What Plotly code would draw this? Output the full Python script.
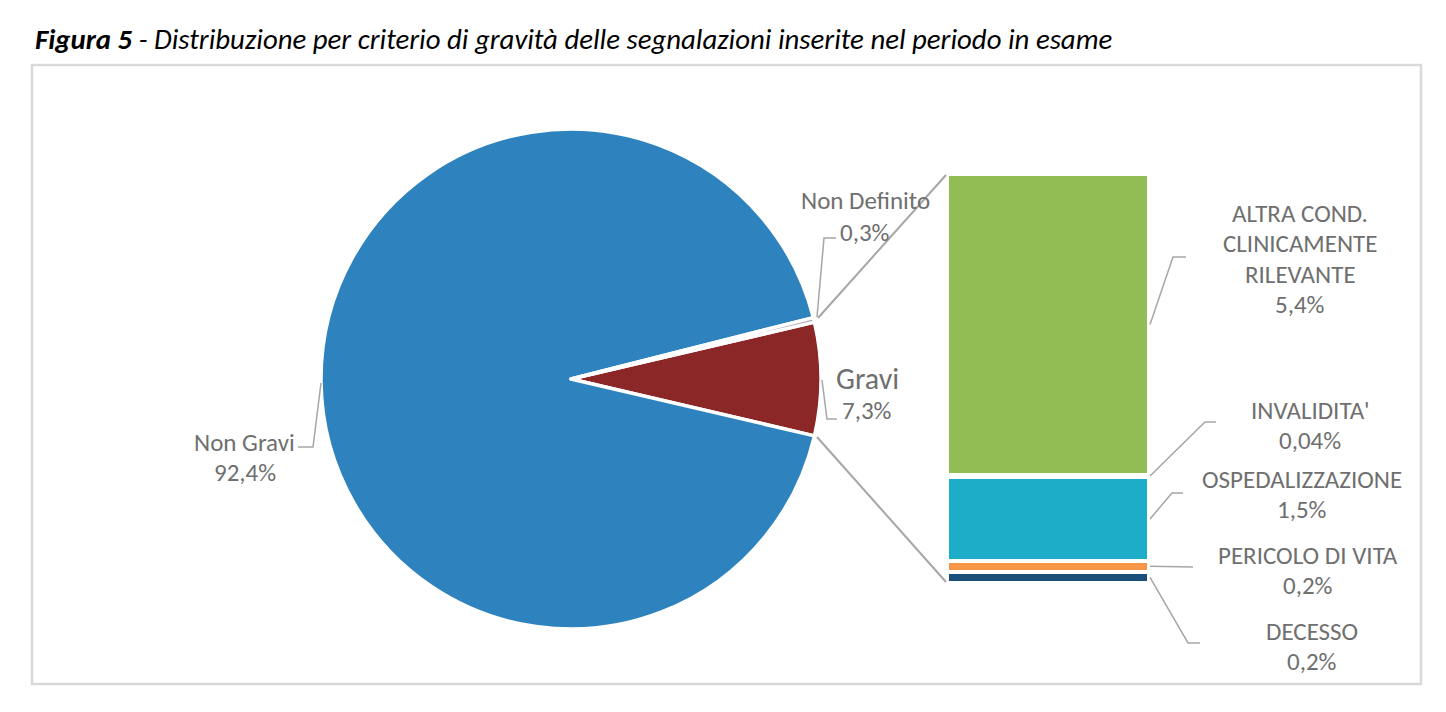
import plotly.graph_objects as go

# ---------------------------------------------------------------------------
# Data
# ---------------------------------------------------------------------------
pie_labels = ["Gravi", "Non Gravi", "Non Definito"]
pie_values = [7.3, 92.4, 0.3]
pie_colors = ["#8b2727", "#2e83be", "#a5a5a5"]

bar_labels = ["DECESSO", "PERICOLO DI VITA", "OSPEDALIZZAZIONE", "INVALIDITA'",
              "ALTRA COND.<br>CLINICAMENTE<br>RILEVANTE"]
bar_values = [0.2, 0.2, 1.5, 0.04, 5.4]
bar_colors = ["#1a4e7b", "#f79646", "#1eadc8", "#4bacc6", "#92bc54"]

TITLE_BOLD = "Figura 5"
TITLE_REST = " - Distribuzione per criterio di gravità delle segnalazioni inserite nel periodo in esame"

# ---------------------------------------------------------------------------
# Geometry (pixels of the 1446x712 page; the page body has an 8px margin)
# ---------------------------------------------------------------------------
OFF = 8
FW, FH = 1446 - 2 * OFF, 712 - 2 * OFF
PIE_CX, PIE_CY, PIE_R = 571, 379, 250
BAR_L, BAR_R, BAR_TOP, BAR_BOT = 947, 1149, 174, 583

TEXT_COLOR = "#6f6f6f"
LINE_COLOR = "#a6a6a6"
FONT = "Carlito, Open Sans, Arial, sans-serif"
LABEL_SIZE = 25


def px(x):
    return (x - OFF) / FW


def py(y):
    return 1 - (y - OFF) / FH


def pct(v):
    return str(v).replace(".", ",") + "%"


def bar_y(v):
    total = sum(bar_values)
    return BAR_BOT - v / total * (BAR_BOT - BAR_TOP)


fig = go.Figure()

fig.add_trace(go.Pie(
    labels=pie_labels,
    values=pie_values,
    sort=False,
    direction="clockwise",
    rotation=90 - pie_values[0] / sum(pie_values) * 180,
    marker=dict(colors=pie_colors, line=dict(color="white", width=3.5)),
    textinfo="none",
    hoverinfo="label+percent",
    showlegend=False,
    domain=dict(x=[px(PIE_CX - PIE_R), px(PIE_CX + PIE_R)],
                y=[py(PIE_CY + PIE_R), py(PIE_CY - PIE_R)]),
))

for lab, val, col in zip(bar_labels, bar_values, bar_colors):
    fig.add_trace(go.Bar(
        x=[0], y=[val], width=1, name=lab.replace("<br>", " "),
        marker=dict(color=col, line=dict(color="white", width=4)),
        showlegend=False, hoverinfo="name+y",
    ))

annotations = []
shapes = []


def add_label(lines, cx, y0, sizes, pitch=30):
    for i, (txt, sz) in enumerate(zip(lines, sizes)):
        annotations.append(dict(
            x=px(cx), y=py(y0 + i * pitch), xref="paper", yref="paper",
            text=txt, showarrow=False, xanchor="center", yanchor="middle",
            font=dict(family=FONT, size=sz, color=TEXT_COLOR),
        ))


def add_leader(points, color=LINE_COLOR, width=1.5):
    d = "M " + " L ".join(f"{px(x)},{py(y)}" for x, y in points)
    shapes.append(dict(type="path", path=d, xref="paper", yref="paper",
                       line=dict(color=color, width=width)))


# pie labels
add_label(["Non Gravi", pct(pie_values[1])], 245, 442, [LABEL_SIZE] * 2)
add_leader([(321, 383), (313, 447), (298, 447)])
add_label(["Non Definito", pct(pie_values[2])], 865, 200, [LABEL_SIZE] * 2, pitch=32)
add_leader([(817, 317), (824, 238), (836, 238)])
add_label(["Gravi", pct(pie_values[0])], 867, 378, [30, LABEL_SIZE], pitch=32)
add_leader([(822, 380), (827, 419), (837, 419)])

# connectors pie -> bar
add_leader([(818, 318), (BAR_L - 1, BAR_TOP + 1)], width=2)
add_leader([(817, 437), (BAR_L - 1, BAR_BOT - 1)], width=2)

# bar labels
label_pos = {
    "DECESSO": (1312, 631, [(1188, 643), (1200, 643)]),
    "PERICOLO DI VITA": (1308, 555, [(1193, 567)]),
    "OSPEDALIZZAZIONE": (1302, 479, [(1172, 493), (1183, 493)]),
    "INVALIDITA'": (1310, 410, [(1205, 422), (1216, 422)]),
    "ALTRA COND.<br>CLINICAMENTE<br>RILEVANTE": (1300, 213, [(1173, 257), (1186, 257)]),
}
base = 0
for lab, val in zip(bar_labels, bar_values):
    cx, y0, elbow = label_pos[lab]
    lines = lab.split("<br>") + [pct(val)]
    add_label(lines, cx, y0, [LABEL_SIZE] * len(lines), pitch=30.5)
    start = (BAR_R + 1, min(bar_y(base + val / 2), BAR_BOT - 4))
    add_leader([start] + elbow)
    base += val

# frame
shapes.append(dict(type="rect", xref="paper", yref="paper",
                   x0=px(32), x1=px(1421), y0=py(684), y1=py(65),
                   line=dict(color="#d9d9d9", width=2.5), layer="below"))

# title
annotations.append(dict(
    x=px(33), y=py(40), xref="paper", yref="paper", xanchor="left", yanchor="middle",
    text=f"<i><b>{TITLE_BOLD}</b>{TITLE_REST}</i>", showarrow=False,
    font=dict(family=FONT, size=28.8, color="#000000"),
))

fig.update_layout(
    width=FW, height=FH,
    margin=dict(l=0, r=0, t=0, b=0),
    paper_bgcolor="white",
    plot_bgcolor="rgba(0,0,0,0)",
    barmode="stack",
    bargap=0,
    xaxis=dict(domain=[px(BAR_L), px(BAR_R)], range=[-0.5, 0.5], visible=False, fixedrange=True),
    yaxis=dict(domain=[py(BAR_BOT), py(BAR_TOP)], range=[0, sum(bar_values)], visible=False, fixedrange=True),
    annotations=annotations,
    shapes=shapes,
)

fig.write_html("out.html")
